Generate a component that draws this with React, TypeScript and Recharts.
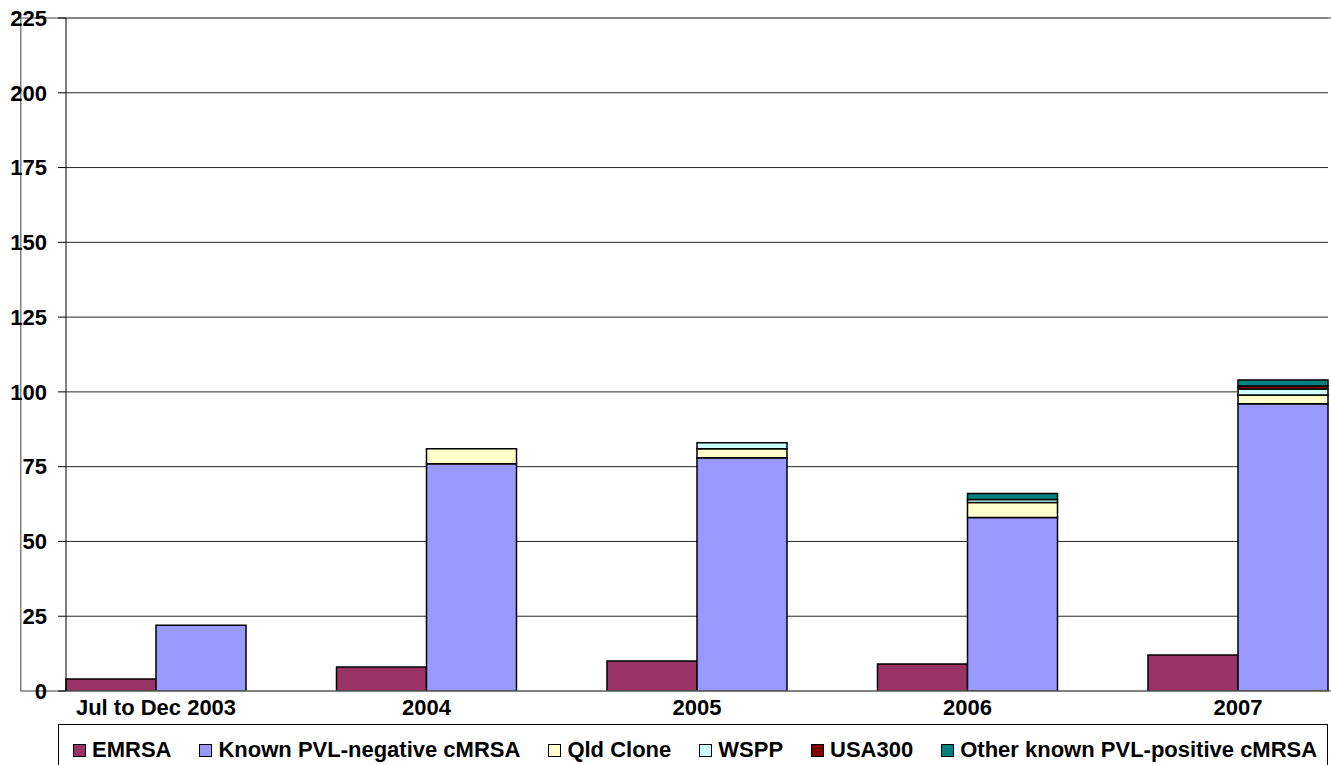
import { BarChart, Bar, XAxis, YAxis, CartesianGrid, ReferenceArea } from 'recharts';

// chart values
const CATEGORIES = ['Jul to Dec 2003', '2004', '2005', '2006', '2007'];
const EMRSA = [4, 8, 10, 9, 12];
const KNOWN_PVL_NEG = [22, 76, 78, 58, 96];
const QLD_CLONE = [0, 5, 3, 5, 3];
const WSPP = [0, 0, 2, 1, 2];
const USA300 = [0, 0, 0, 0, 1];
const OTHER_PVL_POS = [0, 0, 0, 2, 2];
const Y_TICKS = [0, 25, 50, 75, 100, 125, 150, 175, 200, 225];

const SERIES = [
  { key: 'emrsa', name: 'EMRSA', values: EMRSA, color: '#993366', stack: 'a' },
  { key: 'known', name: 'Known PVL-negative cMRSA', values: KNOWN_PVL_NEG, color: '#9999FF', stack: 'b' },
  { key: 'qld', name: 'Qld Clone', values: QLD_CLONE, color: '#FFFFCC', stack: 'b' },
  { key: 'wspp', name: 'WSPP', values: WSPP, color: '#CCFFFF', stack: 'b' },
  { key: 'usa300', name: 'USA300', values: USA300, color: '#800000', stack: 'b' },
  { key: 'other', name: 'Other known PVL-positive cMRSA', values: OTHER_PVL_POS, color: '#008080', stack: 'b' },
];

const data = CATEGORIES.map((name, i) => {
  const row: Record<string, string | number> = { name };
  SERIES.forEach((s) => { row[s.key] = s.values[i]; });
  return row;
});

const FONT = '"Liberation Sans", Arial, sans-serif';
const tickStyle = { fontFamily: FONT, fontSize: 22, fontWeight: 'bold', fill: '#000' };

function ChartLegend() {
  return (
    <div
      style={{
        position: 'absolute',
        left: 58,
        top: 724,
        width: 1270,
        height: 60,
        border: '1px solid #000',
        boxSizing: 'border-box',
        display: 'flex',
        flexWrap: 'nowrap',
        alignItems: 'flex-start',
        paddingLeft: 14,
        paddingTop: 13,
        fontFamily: FONT,
        fontSize: 22,
        fontWeight: 'bold',
        lineHeight: '24px',
        whiteSpace: 'nowrap',
        background: '#fff',
      }}
    >
      {SERIES.map((s) => (
        <div key={s.key} style={{ display: 'flex', alignItems: 'center', marginRight: 28, flexShrink: 0 }}>
          <span
            style={{
              width: 13,
              height: 13,
              background: s.color,
              border: '1px solid #000',
              boxSizing: 'border-box',
              marginRight: 6,
              display: 'inline-block',
              flexShrink: 0,
            }}
          />
          <span>{s.name}</span>
        </div>
      ))}
    </div>
  );
}

export default function App() {
  return (
    <div style={{ position: 'absolute', left: 0, top: 0, width: 1331, height: 765, overflow: 'hidden', background: '#fff' }}>
      <BarChart
        width={1331}
        height={765}
        data={data}
        margin={{ top: 18, right: 3, bottom: 40, left: 0 }}
        barCategoryGap={45.25}
        barGap={0}
      >
        <CartesianGrid vertical={false} stroke="#000" strokeOpacity={0.85} />
        <XAxis
          dataKey="name"
          height={34}
          padding={{ left: -45.25, right: -45.25 }}
          axisLine={{ stroke: '#808080' }}
          tickLine={false}
          tick={tickStyle}
          interval={0}
        />
        <YAxis
          width={66}
          domain={[0, 225]}
          ticks={Y_TICKS}
          axisLine={{ stroke: '#000' }}
          tickLine={{ stroke: '#000' }}
          tickSize={8}
          tickMargin={11}
          tick={tickStyle}
          allowDataOverflow
        />
        {SERIES.map((s) => (
          <Bar
            key={s.key}
            dataKey={s.key}
            name={s.name}
            stackId={s.stack}
            fill={s.color}
            stroke="#000"
            strokeWidth={1.5}
            isAnimationActive={false}
          />
        ))}
        <ReferenceArea y1={0} y2={225} fill="none" stroke="#808080" strokeWidth={1.5} />
      </BarChart>
      <ChartLegend />
    </div>
  );
}
